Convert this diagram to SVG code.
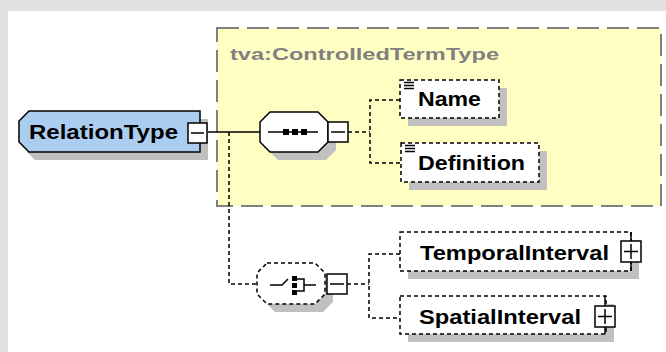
<svg xmlns="http://www.w3.org/2000/svg" width="666" height="352" viewBox="0 0 666 352">
<style>
.shadow{fill:#c0c0c0;stroke:none}
.solid{fill:none;stroke:#000;stroke-width:1.5}
.dash{fill:none;stroke:#000;stroke-width:1.5;stroke-dasharray:4 3}
.box{fill:#fff;stroke:#000;stroke-width:1.5}
.dbox{fill:#fff;stroke:#000;stroke-width:1.5;stroke-dasharray:4 3}
.lbl{font-family:"Liberation Sans",Arial,sans-serif;font-weight:bold;fill:#000}
</style>
<rect x="0" y="0" width="666" height="352" fill="#e0e0e0"/>
<rect x="8" y="11" width="658" height="341" fill="#fff"/>

<g id="complexType">
<rect x="217" y="28" width="444" height="178" fill="#ffffc4" stroke="#808080" stroke-width="2" stroke-dasharray="22 8"/>
<text x="230" y="60" font-family="'Liberation Sans',Arial,sans-serif" font-weight="bold" font-size="17" fill="#808080" textLength="269" lengthAdjust="spacingAndGlyphs">tva:ControlledTermType</text>
</g>

<g id="connectors">
<line class="solid" x1="207" y1="132" x2="260" y2="132"/>
<polyline class="dash" points="229,132 229,284 257,284"/>
<line class="dash" x1="348" y1="132" x2="370" y2="132"/>
<polyline class="dash" points="400,100 370,100 370,163 400,163"/>
<line class="dash" x1="347" y1="284" x2="369" y2="284"/>
<polyline class="dash" points="400,254 369,254 369,318 400,318"/>
</g>

<g id="RelationType">
<polygon class="shadow" points="35,119 208,119 208,160 35,160 27,152 27,127"/>
<polygon points="29,111 200,111 200,152 29,152 19,142 19,121" fill="#abcdf0" stroke="#000" stroke-width="1.5"/>
<text class="lbl" x="29" y="139" font-size="21" textLength="149" lengthAdjust="spacingAndGlyphs">RelationType</text>
<rect class="box" x="188" y="123" width="19" height="20"/>
<line class="solid" x1="191" y1="133" x2="204" y2="133"/>
</g>

<g id="sequence">
<polygon class="shadow" points="278,120 326,120 336,130 336,150 326,160 278,160 268,150 268,130"/>
<polygon class="box" points="270,112 318,112 328,122 328,142 318,152 270,152 260,142 260,122"/>
<line class="solid" x1="268" y1="132" x2="318" y2="132"/>
<rect x="283" y="129" width="6" height="6" fill="#000"/>
<rect x="292" y="129" width="6" height="6" fill="#000"/>
<rect x="301" y="129" width="6" height="6" fill="#000"/>
<rect class="box" x="328" y="122" width="20" height="20"/>
<line class="solid" x1="331" y1="132" x2="345" y2="132"/>
</g>

<g id="Name">
<rect class="shadow" x="408" y="88" width="99" height="38"/>
<rect class="dbox" x="400" y="80" width="99" height="38"/>
<path class="solid" stroke-width="1" d="M404,82.5h10M404,85.5h10M404,88.5h10"/>
<text class="lbl" x="418" y="106" font-size="20" textLength="63" lengthAdjust="spacingAndGlyphs">Name</text>
</g>

<g id="Definition">
<rect class="shadow" x="409" y="151" width="138" height="39"/>
<rect class="dbox" x="401" y="143" width="138" height="39"/>
<path class="solid" stroke-width="1" d="M405,145.5h10M405,148.5h10M405,151.5h10"/>
<text class="lbl" x="418" y="170" font-size="20" textLength="107" lengthAdjust="spacingAndGlyphs">Definition</text>
</g>

<g id="choice">
<polygon class="shadow" points="275,271 323,271 333,281 333,302 323,312 275,312 265,302 265,281"/>
<polygon class="dbox" points="267,263 315,263 325,273 325,294 315,304 267,304 257,294 257,273"/>
<polyline class="solid" points="270,285 282,285 288,279"/>
<rect x="292" y="276" width="5" height="5" fill="#000"/>
<rect x="292" y="283" width="5" height="5" fill="#000"/>
<rect x="292" y="290" width="5" height="5" fill="#000"/>
<path class="solid" d="M297,279H304V291H297M304,285H316"/>
<rect class="box" x="327" y="274" width="20" height="20"/>
<line class="solid" x1="330" y1="284" x2="344" y2="284"/>
</g>

<g id="TemporalInterval">
<rect class="shadow" x="408" y="240" width="231" height="39"/>
<rect class="dbox" x="400" y="232" width="231" height="39"/>
<text class="lbl" x="420" y="260" font-size="20" textLength="189" lengthAdjust="spacingAndGlyphs">TemporalInterval</text>
<rect class="box" x="621" y="241" width="20" height="21"/>
<path class="solid" d="M624,251.5H638M631,244V259M631,232V241M631,262V271"/>
</g>

<g id="SpatialInterval">
<rect class="shadow" x="408" y="304" width="206" height="38"/>
<rect class="dbox" x="400" y="296" width="206" height="38"/>
<text class="lbl" x="419" y="324" font-size="20" textLength="162" lengthAdjust="spacingAndGlyphs">SpatialInterval</text>
<rect class="box" x="595" y="306" width="20" height="21"/>
<path class="solid" d="M598,316.5H612M605,309V324M605,296V306M605,327V334"/>
</g>
</svg>
